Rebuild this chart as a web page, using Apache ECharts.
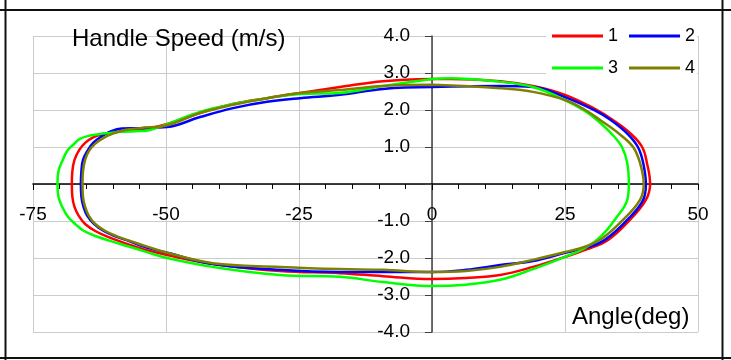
<!DOCTYPE html>
<html>
<head>
<meta charset="utf-8">
<script src="https://cdn.jsdelivr.net/npm/echarts@6/dist/echarts.min.js"></script>
<style>
html,body{margin:0;padding:0;background:#fff;}
#c{width:731px;height:360px;}
</style>
</head>
<body>
<div id="c"></div>
<script>
// ---- data ----
const seriesNames = ['1', '2', '3', '4'];
const seriesColors = ['#ff0000', '#0000ff', '#00ff00', '#808000'];

const angle1 = [0, 3.4, 12.8, 19.0, 25.0, 30.6, 34.0, 37.2, 39.5, 40.4, 41.0, 40.2, 37.2, 33.1, 28.8, 25.0, 19.0, 12.8, 6.4, 0, -9.2, -17.3, -28.6, -41.2, -49.8, -54.3, -58.1, -60.9, -63.3, -65.2, -66.4, -67.2, -67.6, -67.7, -67.6, -67.2, -66.3, -65.2, -63.7, -61.8, -59.2, -53.0, -49.8, -43.6, -37.4, -31.0, -24.8, -17.3, -9.2, 0];
const speed1 = [2.84, 2.84, 2.78, 2.65, 2.41, 2.03, 1.73, 1.38, 1.00, 0.57, 0, -0.43, -0.97, -1.51, -1.78, -1.97, -2.24, -2.46, -2.54, -2.57, -2.49, -2.41, -2.35, -2.16, -1.92, -1.76, -1.58, -1.43, -1.27, -1.08, -0.86, -0.62, -0.35, 0, 0.35, 0.65, 0.92, 1.11, 1.26, 1.35, 1.41, 1.51, 1.62, 1.92, 2.16, 2.32, 2.46, 2.62, 2.78, 2.84];

const angle2 = [0, 12.8, 19.0, 25.0, 30.6, 33.6, 36.8, 38.7, 39.7, 40.2, 39.7, 36.7, 32.5, 28.8, 25.0, 19.0, 12.8, 6.4, 0, -9.2, -17.3, -28.6, -41.2, -49.8, -53.6, -56.8, -59.4, -61.7, -63.5, -64.8, -65.5, -65.9, -66.0, -65.9, -65.6, -64.8, -63.7, -62.2, -60.3, -58.3, -54.9, -49.8, -43.6, -37.4, -31.0, -24.8, -17.3, -9.2, 0];
const speed2 = [2.62, 2.65, 2.62, 2.35, 1.99, 1.73, 1.35, 1.00, 0.57, 0, -0.43, -0.97, -1.51, -1.73, -1.86, -2.08, -2.19, -2.32, -2.38, -2.38, -2.38, -2.32, -2.16, -1.86, -1.72, -1.55, -1.42, -1.27, -1.08, -0.86, -0.62, -0.35, 0, 0.35, 0.65, 0.89, 1.11, 1.28, 1.43, 1.50, 1.51, 1.54, 1.81, 2.05, 2.22, 2.32, 2.41, 2.57, 2.62];

const angle3 = [0, 3.4, 12.8, 19.0, 25.0, 28.8, 31.0, 33.8, 35.7, 36.7, 37.0, 36.7, 34.6, 31.8, 28.8, 25.0, 19.0, 12.8, 6.4, 0, -9.2, -17.3, -28.6, -41.2, -49.8, -53.6, -57.0, -60.2, -63.0, -65.4, -67.0, -68.4, -69.4, -70.2, -70.4, -70.2, -69.4, -68.5, -67.3, -66.2, -64.3, -62.4, -60.5, -58.6, -54.9, -53.0, -49.8, -43.6, -37.4, -31.0, -24.8, -17.3, -9.2, 0];
const speed3 = [2.84, 2.86, 2.76, 2.62, 2.27, 1.97, 1.73, 1.35, 1.00, 0.57, 0, -0.43, -0.92, -1.41, -1.73, -1.97, -2.30, -2.59, -2.72, -2.76, -2.65, -2.51, -2.46, -2.24, -2.00, -1.84, -1.69, -1.55, -1.42, -1.27, -1.09, -0.89, -0.65, -0.35, 0, 0.35, 0.65, 0.91, 1.08, 1.22, 1.31, 1.35, 1.38, 1.41, 1.43, 1.46, 1.62, 1.95, 2.16, 2.32, 2.43, 2.46, 2.65, 2.84];

const angle4 = [0, 12.8, 19.0, 25.0, 28.8, 31.6, 35.5, 37.8, 39.1, 39.8, 39.1, 35.9, 32.1, 28.9, 25.0, 19.0, 12.8, 6.4, 0, -9.2, -17.3, -28.6, -41.2, -49.8, -53.4, -56.5, -59.1, -61.4, -63.3, -64.5, -65.2, -65.6, -65.7, -65.6, -65.2, -64.5, -63.3, -61.8, -60.0, -57.7, -54.9, -49.8, -43.6, -37.4, -31.0, -24.8, -17.3, -9.2, 0];
const speed4 = [2.68, 2.59, 2.49, 2.27, 2.00, 1.73, 1.32, 1.00, 0.57, 0, -0.43, -0.97, -1.46, -1.69, -1.84, -2.05, -2.24, -2.35, -2.38, -2.32, -2.30, -2.24, -2.14, -1.86, -1.70, -1.55, -1.42, -1.27, -1.08, -0.86, -0.62, -0.35, 0, 0.35, 0.65, 0.89, 1.09, 1.24, 1.36, 1.46, 1.51, 1.59, 1.92, 2.14, 2.32, 2.46, 2.54, 2.65, 2.68];

const xTickValues = [-75, -50, -25, 0, 25, 50];
const yTickValues = [-4, -3, -2, -1, 0, 1, 2, 3, 4];
const chartTitle = 'Handle Speed (m/s)';
const xAxisTitle = 'Angle(deg)';

// ---- chart ----
const FONT = "'Liberation Sans', Arial, sans-serif";
const angles = [angle1, angle2, angle3, angle4];
const speeds = [speed1, speed2, speed3, speed4];

const GRID = { left: 33, right: 33, top: 36, bottom: 28 };
const W = 731, H = 360;
const plotW = W - GRID.left - GRID.right;
const plotH = H - GRID.top - GRID.bottom;
const xMin = xTickValues[0], xMax = xTickValues[xTickValues.length - 1];
const yMin = yTickValues[0], yMax = yTickValues[yTickValues.length - 1];
// move axes so they cross at the origin (line, ticks and labels together)
const xAxisOffset = -plotH * (0 - yMin) / (yMax - yMin);
const yAxisOffset = -plotW * (0 - xMin) / (xMax - xMin);

const series = seriesNames.map((name, i) => ({
  name: name,
  type: 'line',
  data: angles[i].map((a, k) => [a, speeds[i][k]]),
  smooth: 0.4,
  showSymbol: false,
  symbol: 'none',
  lineStyle: { color: seriesColors[i], width: 2.5 },
  itemStyle: { color: seriesColors[i] },
  emphasis: { disabled: true },
  z: 3 + i
}));

const chart = echarts.init(document.getElementById('c'), null, { renderer: 'canvas' });

const legendCommon = {
  left: 546,
  orient: 'horizontal',
  icon: 'rect',
  itemWidth: 51,
  itemHeight: 3,
  itemGap: 11,
  backgroundColor: '#ffffff',
  textStyle: { fontSize: 18, color: '#000', fontFamily: FONT },
  selectedMode: false
};

chart.setOption({
  animation: false,
  backgroundColor: '#ffffff',
  textStyle: { fontFamily: FONT },
  title: [
    { text: chartTitle, left: 72, top: 27, padding: 0,
      textStyle: { fontSize: 24, fontWeight: 'normal', color: '#000', fontFamily: FONT } },
    { text: xAxisTitle, left: 572, top: 305, padding: 0,
      textStyle: { fontSize: 24, fontWeight: 'normal', color: '#000', fontFamily: FONT } }
  ],
  legend: [
    Object.assign({}, legendCommon, { data: [seriesNames[0], seriesNames[1]], top: 20, padding: [7, 2, 7, 6] }),
    Object.assign({}, legendCommon, { data: [seriesNames[2], seriesNames[3]], top: 52, padding: [7, 2, 3, 6] })
  ],
  grid: { left: GRID.left, right: GRID.right, top: GRID.top, bottom: GRID.bottom, containLabel: false, outerBoundsMode: 'none' },
  xAxis: {
    type: 'value',
    position: 'bottom',
    offset: xAxisOffset,
    min: xMin,
    max: xMax,
    interval: xTickValues[1] - xTickValues[0],
    axisLine: { show: true, onZero: false, lineStyle: { color: '#000', width: 1.5 } },
    axisTick: { show: true, inside: false, length: 6, lineStyle: { color: '#000', width: 1 } },
    minorTick: { show: true, splitNumber: 5, length: 5, lineStyle: { color: '#000', width: 1 } },
    axisLabel: { show: true, margin: 21, fontSize: 19, color: '#000', fontFamily: FONT },
    splitLine: { show: true, lineStyle: { color: '#cccccc', width: 1 } },
    minorSplitLine: { show: false }
  },
  yAxis: {
    type: 'value',
    position: 'left',
    offset: yAxisOffset,
    min: yMin,
    max: yMax,
    interval: yTickValues[1] - yTickValues[0],
    axisLine: { show: true, onZero: false, lineStyle: { color: '#404040', width: 1.5 } },
    axisTick: { show: true, inside: false, length: 7, lineStyle: { color: '#404040', width: 1 } },
    axisLabel: {
      show: true, margin: 22, fontSize: 19, color: '#000', fontFamily: FONT,
      formatter: v => (v === 0 ? '' : v.toFixed(1))
    },
    splitLine: { show: true, lineStyle: { color: '#cccccc', width: 1 } }
  },
  graphic: [
    { type: 'line', shape: { x1: 5.5, y1: 0, x2: 5.5, y2: 360 }, style: { stroke: '#111', lineWidth: 2 }, z: 100 },
    { type: 'line', shape: { x1: 722.5, y1: 0, x2: 722.5, y2: 360 }, style: { stroke: '#111', lineWidth: 2 }, z: 100 },
    { type: 'line', shape: { x1: 0, y1: 10, x2: 731, y2: 10 }, style: { stroke: '#111', lineWidth: 2 }, z: 100 },
    { type: 'line', shape: { x1: 0, y1: 358, x2: 731, y2: 358 }, style: { stroke: '#111', lineWidth: 2 }, z: 100 }
  ],
  series: series
});
</script>
</body>
</html>
